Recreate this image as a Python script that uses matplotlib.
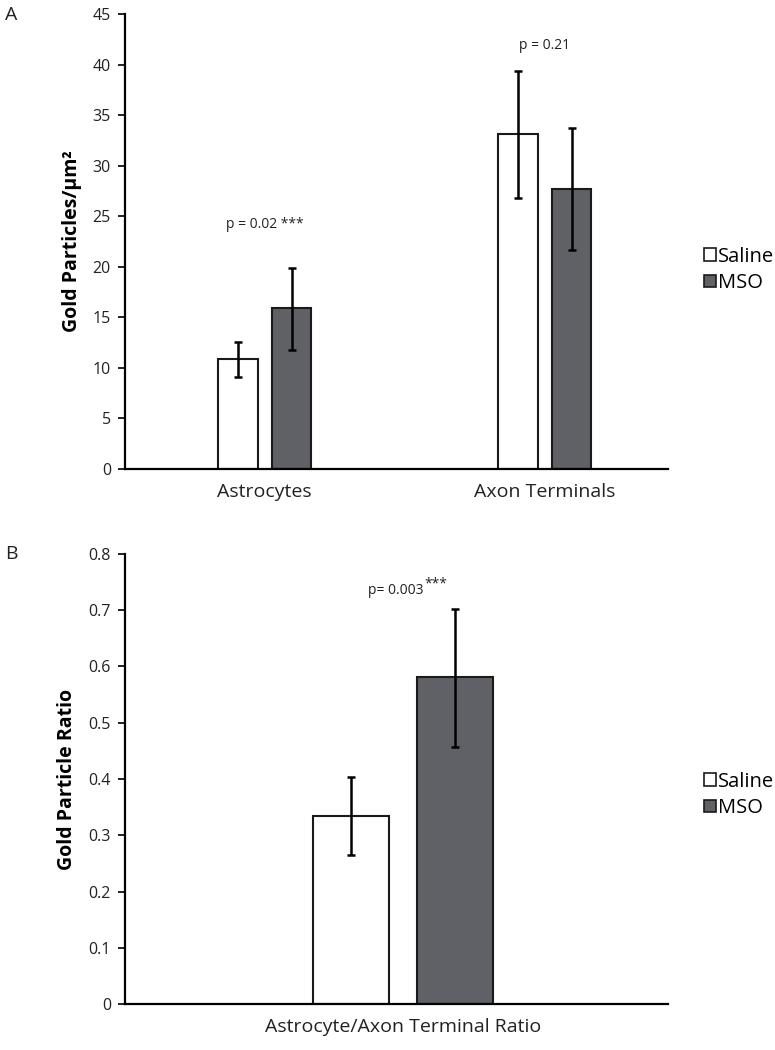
import matplotlib
matplotlib.use("Agg")
import matplotlib.pyplot as plt
import numpy as np
from matplotlib.patches import Patch

plt.rcParams['font.family'] = ['Open Sans', 'DejaVu Sans']

# Panel A data
cats_a = ["Astrocytes", "Axon Terminals"]
saline_a = [10.9, 33.1]
saline_a_lo = [9.1, 26.8]
saline_a_hi = [12.6, 39.4]
mso_a = [15.9, 27.7]
mso_a_lo = [11.8, 21.7]
mso_a_hi = [19.9, 33.7]
pvals_a = ["p = 0.02 ***", "p = 0.21"]
yticks_a = [0, 5, 10, 15, 20, 25, 30, 35, 40, 45]

# Panel B data
cats_b = ["Astrocyte/Axon Terminal Ratio"]
saline_b = [0.335]
saline_b_lo = [0.265]
saline_b_hi = [0.404]
mso_b = [0.582]
mso_b_lo = [0.457]
mso_b_hi = [0.702]
yticks_b = [0, 0.1, 0.2, 0.3, 0.4, 0.5, 0.6, 0.7, 0.8]

series_names = ["Saline", "MSO"]
c_saline = "white"
c_mso = "#606166"
edge = "#1a1a1a"

fig = plt.figure(figsize=(7.75, 10.5), dpi=100)
axA = fig.add_axes([0.161, 0.5533, 0.701, 0.4334])
axB = fig.add_axes([0.161, 0.0438, 0.701, 0.4286])

w = 0.14
off = 0.096

def style(ax):
    for s in ["top", "right"]:
        ax.spines[s].set_visible(False)
    for s in ["left", "bottom"]:
        ax.spines[s].set_linewidth(1.6)
        ax.spines[s].set_color("black")
    ax.tick_params(axis='y', direction='out', length=5, width=1.4, labelsize=11.5, pad=5, colors="#222")
    ax.tick_params(axis='x', length=0, labelsize=14, pad=10, colors="#222")

def draw(ax, cats, s, slo, shi, m, mlo, mhi):
    x = np.arange(len(cats))
    ax.bar(x - off, s, width=w, color=c_saline, edgecolor=edge, linewidth=1.5, zorder=2)
    ax.bar(x + off, m, width=w, color=c_mso, edgecolor=edge, linewidth=1.5, zorder=2)
    s = np.array(s); m = np.array(m)
    ax.errorbar(x - off, s, yerr=[s - np.array(slo), np.array(shi) - s], fmt='none',
                ecolor='black', elinewidth=1.8, capsize=3, capthick=1.8, zorder=3)
    ax.errorbar(x + off, m, yerr=[m - np.array(mlo), np.array(mhi) - m], fmt='none',
                ecolor='black', elinewidth=1.8, capsize=3, capthick=1.8, zorder=3)
    ax.set_xticks(x)
    ax.set_xticklabels(cats)

# Panel A
draw(axA, cats_a, saline_a, saline_a_lo, saline_a_hi, mso_a, mso_a_lo, mso_a_hi)
style(axA)
axA.set_xlim(-0.5, 1.44)
axA.set_ylim(0, 45)
axA.set_yticks(yticks_a)
axA.set_ylabel("Gold Particles/µm²", fontsize=14, fontweight='bold', labelpad=8)
axA.text(0, 24.2, pvals_a[0], ha='center', va='center', fontsize=10, color="#222")
axA.text(1, 41.9, pvals_a[1], ha='center', va='center', fontsize=10, color="#222")

# Panel B
draw(axB, cats_b, saline_b, saline_b_lo, saline_b_hi, mso_b, mso_b_lo, mso_b_hi)
style(axB)
axB.set_xlim(-0.512, 0.488)
axB.set_ylim(0, 0.8)
axB.set_yticks(yticks_b)
axB.set_yticklabels(["0" if v == 0 else f"{v:.1f}" for v in yticks_b])
axB.set_ylabel("Gold Particle Ratio", fontsize=14, fontweight='bold', labelpad=8)
tp = axB.text(-0.065, 0.735, "p= 0.003", ha='left', va='center', fontsize=10, color="#222")
axB.annotate("***", xy=(1, 0.5), xycoords=tp, xytext=(1, 5), textcoords='offset points',
             ha='left', va='center', fontsize=10, color="#222")

# legends
handles = [Patch(facecolor=c_saline, edgecolor=edge, linewidth=1.2, label=series_names[0]),
           Patch(facecolor=c_mso, edgecolor=edge, linewidth=1.2, label=series_names[1])]
for yc in [1 - 270 / 1050, 1 - 795 / 1050]:
    fig.legend(handles=handles, loc='center left', bbox_to_anchor=(0.908, yc),
               frameon=False, fontsize=14.5, handlelength=0.6, handleheight=0.6, handletextpad=0.1,
               labelspacing=0.3, borderaxespad=0, borderpad=0)

fig.text(0.006, 1 - 15 / 1050, "A", fontsize=14, ha='left', va='center', color="#222")
fig.text(0.006, 1 - 554 / 1050, "B", fontsize=14, ha='left', va='center', color="#222")

fig.savefig("out.png", dpi=100)
